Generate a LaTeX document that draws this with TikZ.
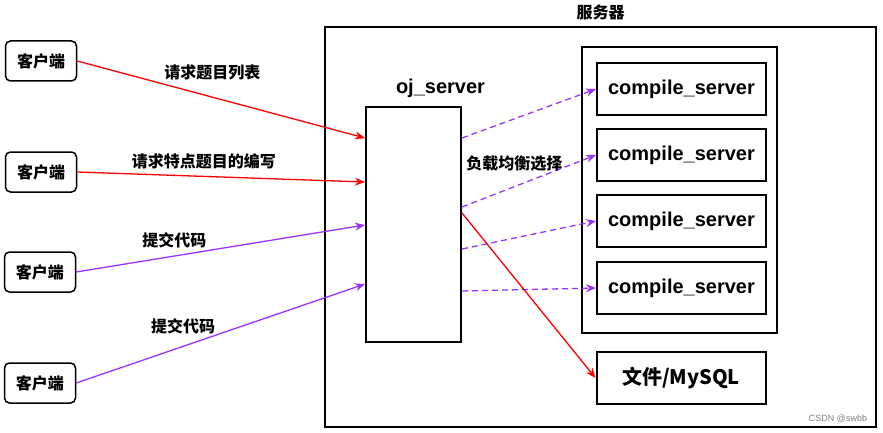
\documentclass[tikz,border=0pt]{standalone}
\usepackage{fontspec}
\setmainfont{Liberation Sans}
\newfontfamily\cjk{Noto Sans CJK SC}
\usetikzlibrary{arrows.meta, positioning}

\definecolor{reqred}{HTML}{FF0000}
\definecolor{subpurple}{HTML}{9933FF}

\tikzset{
    client/.style={draw, line width=1.5pt, rounded corners=5pt, minimum width=71pt, minimum height=40pt,
        font=\cjk\bfseries\fontsize{16}{18}\selectfont},
    box/.style={draw, line width=2pt, inner sep=0pt},
    worker/.style={box, minimum width=169pt, minimum height=52pt, font=\bfseries\fontsize{20}{22}\selectfont},
    tag/.style={inner sep=0pt, text=black, font=\cjk\bfseries\fontsize{16}{18}\selectfont},
    req/.style={reqred, line width=1.3pt, -{Stealth[length=10pt, width=8pt]}},
    sub/.style={subpurple, line width=1.3pt, -{Stealth[length=10pt, width=8pt]}},
    pick/.style={subpurple, line width=1.3pt, dash pattern=on 6pt off 4pt, -{Stealth[length=10pt, width=8pt]}}
}

\begin{document}
\begin{tikzpicture}[x=1pt, y=-1pt]
    \useasboundingbox (0,0) rectangle (883,433);

    % server side
    \node[box, minimum width=551pt, minimum height=400pt,
        label={[tag, yshift=6pt]above:服务器}] (srv) at (600.5,227) {};
    \node[box, minimum width=95pt, minimum height=235pt,
        label={[tag, font=\bfseries\fontsize{20}{22}\selectfont, xshift=27pt, yshift=8pt]above:oj\_server}] (oj) at (413.5,224.5) {};
    \node[box, minimum width=195pt, minimum height=286pt] (pool) at (679.5,190) {};
    \foreach \i/\y in {1/89, 2/155, 3/221, 4/288}
        \node[worker] (cs\i) at (681.5,\y) {compile\_server};
    \node[worker, font=\cjk\bfseries\fontsize{20}{22}\selectfont] (db) at (681,378) {文件/MySQL};

    % clients
    \node[client] (c1) at (41,61) {客户端};
    \node[client] (c2) at (41,172) {客户端};
    \node[client] (c3) at (40,272) {客户端};
    \node[client] (c4) at (40,383) {客户端};

    \draw[req] (c1.east) -- (oj.west |- 0,138) node[tag, pos=0.47, above=16pt]{请求题目列表};
    \draw[req] (c2.east) -- (oj.west |- 0,182) node[tag, pos=0.44, above=7pt]{请求特点题目的编写};
    \draw[sub] (c3.east) -- (oj.west |- 0,225) node[tag, pos=0.34, above=7pt]{提交代码};
    \draw[sub] (c4.east) -- (oj.west |- 0,284) node[tag, pos=0.37, above=12pt]{提交代码};

    \draw[pick] (oj.east |- 0,138) -- (cs1.west);
    \draw[pick] (oj.east |- 0,207) -- (cs2.west) node[tag, pos=0.39, above=15pt]{负载均衡选择};
    \draw[pick] (oj.east |- 0,249) -- (cs3.west);
    \draw[pick] (oj.east |- 0,291) -- (cs4.west);
    \draw[req] (oj.east |- 0,213) -- (db.west);

    \node[gray, font=\fontsize{9}{11}\selectfont] (mark) at (838,419) {CSDN @swbb};
\end{tikzpicture}
\end{document}
